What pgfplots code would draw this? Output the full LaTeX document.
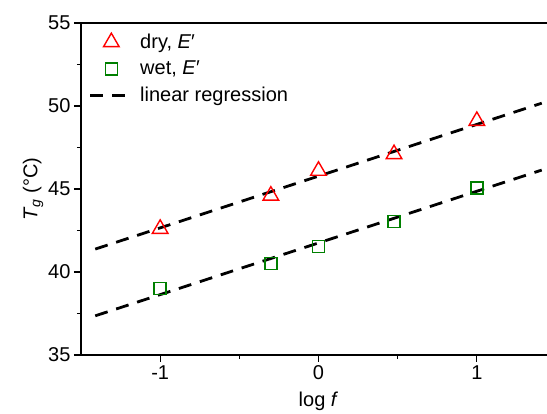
\documentclass[border=0pt]{standalone}
\usepackage{fontspec}
\setmainfont{Liberation Sans}
\usepackage{pgfplots}
\pgfplotsset{compat=1.18}
\definecolor{myred}{RGB}{255,0,0}
\definecolor{mygreen}{RGB}{0,128,0}
\newcommand{\ff}{\fontsize{20}{24}\selectfont}
\begin{document}
\begin{tikzpicture}
\begin{axis}[
  name=ax,
  scale only axis,
  width=475pt, height=332pt,
  xmin=-1.5, xmax=1.5,
  ymin=35, ymax=55,
  xtick={-1,0,1}, minor xtick={-0.5,0.5},
  ytick={35,40,45,50,55}, minor ytick={37.5,42.5,47.5,52.5},
  tick pos=left,
  tick align=outside,
  major tick length=7pt, minor tick length=4pt,
  every tick/.style={black, line width=1.2pt},
  axis line style={line width=1.3pt},
  /pgf/number format/assume math mode=true,
  tick label style={font=\ff},
  label style={font=\ff},
  xlabel={log \textit{f}},
  xlabel style={yshift=-5pt},
  ylabel={\textit{T}\textsubscript{\textit{g}} (°C)},
  ylabel style={yshift=-2pt},
  legend style={draw=none, fill=none, font=\ff, at={(0.010,0.979)}, anchor=north west, row sep=7pt,
    /tikz/every even column/.append style={column sep=0pt}, nodes={inner xsep=6.5pt}},
  legend cell align=left,
  legend image code/.code={\draw[mark repeat=2,mark phase=2,#1] plot coordinates {(0pt,0pt) (21pt,0pt) (42pt,0pt)};},
]
\addplot[only marks, mark=triangle, mark size=9pt, draw=myred, mark options={line width=1.4pt, draw=myred, fill=none}]
  coordinates {(-1,42.6) (-0.301,44.6) (0,46.1) (0.477,47.1) (1,49.1)};
\addlegendentry{dry, \textit{E}′}
\addplot[only marks, mark=square, mark size=6pt, draw=mygreen, mark options={line width=1.5pt, draw=mygreen, fill=none}]
  coordinates {(-1,39) (-0.301,40.5) (0,41.55) (0.477,43.05) (1,45.05)};
\addlegendentry{wet, \textit{E}′}
\addplot[black, line width=2.8pt, dash pattern=on 13pt off 9pt]
  coordinates {(-1.41,41.38) (1.41,50.17)};
\addlegendentry{linear regression}
\addplot[black, line width=2.8pt, dash pattern=on 13pt off 9pt, forget plot]
  coordinates {(-1.41,37.36) (1.41,46.14)};
\end{axis}
\pgfresetboundingbox
\path[use as bounding box] (ax.south west) ++(-81pt,-59pt) rectangle ++(547pt,414pt);
\end{tikzpicture}
\end{document}
